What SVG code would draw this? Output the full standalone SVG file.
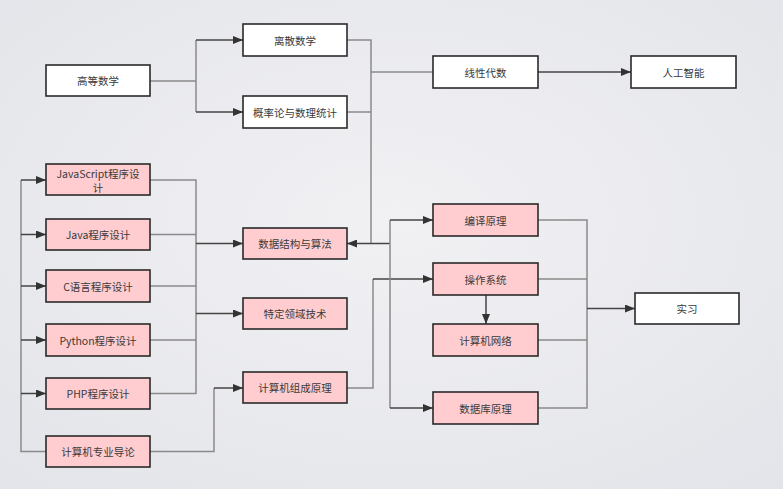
<svg xmlns="http://www.w3.org/2000/svg" width="783" height="489" viewBox="0 0 783 489">
<defs>
<radialGradient id="bg" cx="50%" cy="45%" r="75%">
<stop offset="0" stop-color="#f1f1f4"/>
<stop offset="1" stop-color="#e3e4e9"/>
</radialGradient>
<marker id="ah" markerWidth="10" markerHeight="8" refX="10" refY="4" orient="auto" markerUnits="userSpaceOnUse">
<path d="M0,0 L10,4 L0,8 z" fill="#333"/>
</marker>
<style>
.box rect{stroke:#2a2a2a;stroke-width:1.6}
.w rect{fill:#ffffff}
.p rect{fill:#ffcdd0}
text{font-family:"Noto Sans CJK SC","Liberation Sans",sans-serif;font-size:10.5px;fill:#3a3a3a;text-anchor:middle;dominant-baseline:central}
.t{fill:none;stroke:#8a8a8a;stroke-width:1.5}
.a{fill:none;stroke:#444;stroke-width:1.5;marker-end:url(#ah)}
</style>
</defs>
<rect width="783" height="489" fill="url(#bg)"/>
<g id="connectors">
<path class="t" d="M150,81 H196 M196,40 V112"/>
<path class="a" d="M196,40 H243"/>
<path class="a" d="M196,112 H243"/>
<path class="t" d="M347,40 H371 V243.5 M347,112 H371 M371,72 H433"/>
<path class="a" d="M538,72 H631"/>
<path class="t" d="M46,451.5 H21 V180"/>
<path class="a" d="M21,180 H46"/>
<path class="a" d="M21,234.5 H46"/>
<path class="a" d="M21,286 H46"/>
<path class="a" d="M21,340 H46"/>
<path class="a" d="M21,393.5 H46"/>
<path class="t" d="M150,180 H196 V393.5 H150 M150,234.5 H196 M150,286 H196 M150,340 H196"/>
<path class="a" d="M196,243.5 H243"/>
<path class="a" d="M196,313.5 H243"/>
<path class="t" d="M150,451.5 H214 V388"/>
<path class="a" d="M214,388 H243"/>
<path class="t" d="M347,388 H373 V279"/>
<path class="a" d="M373,279 H433"/>
<path class="a" d="M390,243.5 H347"/>
<path class="t" d="M390,220 V408"/>
<path class="a" d="M390,220 H433"/>
<path class="a" d="M390,408 H433"/>
<path class="a" d="M486,295 V324"/>
<path class="t" d="M538,220 H587 V408 H538 M538,279 H587 M538,340 H587"/>
<path class="a" d="M587,308.5 H635"/>
</g>
<g id="n-gdsx" class="box w"><rect x="46" y="65" width="104" height="31"/><text x="98" y="80.5">高等数学</text></g>
<g id="n-lssx" class="box w"><rect x="243" y="24" width="104" height="32"/><text x="295" y="40">离散数学</text></g>
<g id="n-gll" class="box w"><rect x="243" y="96" width="104" height="32"/><text x="295" y="112">概率论与数理统计</text></g>
<g id="n-xxds" class="box w"><rect x="433" y="56" width="105" height="32"/><text x="485.5" y="72">线性代数</text></g>
<g id="n-rgzn" class="box w"><rect x="631" y="56" width="105" height="32"/><text x="683.5" y="72">人工智能</text></g>
<g id="n-js" class="box p"><rect x="46" y="164" width="104" height="31"/><text x="98" y="173">JavaScript程序设</text><text x="98" y="187">计</text></g>
<g id="n-java" class="box p"><rect x="46" y="219" width="104" height="31"/><text x="98" y="234.5">Java程序设计</text></g>
<g id="n-c" class="box p"><rect x="46" y="270" width="104" height="32"/><text x="98" y="286">C语言程序设计</text></g>
<g id="n-py" class="box p"><rect x="46" y="324" width="104" height="32"/><text x="98" y="340">Python程序设计</text></g>
<g id="n-php" class="box p"><rect x="46" y="378" width="104" height="31"/><text x="98" y="393.5">PHP程序设计</text></g>
<g id="n-dl" class="box p"><rect x="46" y="436" width="104" height="31"/><text x="98" y="451.5">计算机专业导论</text></g>
<g id="n-sjjg" class="box p"><rect x="243" y="228" width="104" height="31"/><text x="295" y="243.5">数据结构与算法</text></g>
<g id="n-tdly" class="box p"><rect x="243" y="298" width="104" height="31"/><text x="295" y="313.5">特定领域技术</text></g>
<g id="n-zcyl" class="box p"><rect x="243" y="372" width="104" height="31"/><text x="295" y="387.5">计算机组成原理</text></g>
<g id="n-byyl" class="box p"><rect x="433" y="204" width="105" height="32"/><text x="485.5" y="220">编译原理</text></g>
<g id="n-czxt" class="box p"><rect x="433" y="263" width="105" height="32"/><text x="485.5" y="279">操作系统</text></g>
<g id="n-wl" class="box p"><rect x="433" y="324" width="105" height="32"/><text x="485.5" y="340">计算机网络</text></g>
<g id="n-sjk" class="box p"><rect x="433" y="392" width="105" height="32"/><text x="485.5" y="408">数据库原理</text></g>
<g id="n-sx" class="box w"><rect x="635" y="293" width="104" height="31"/><text x="687" y="308.5">实习</text></g>
</svg>
